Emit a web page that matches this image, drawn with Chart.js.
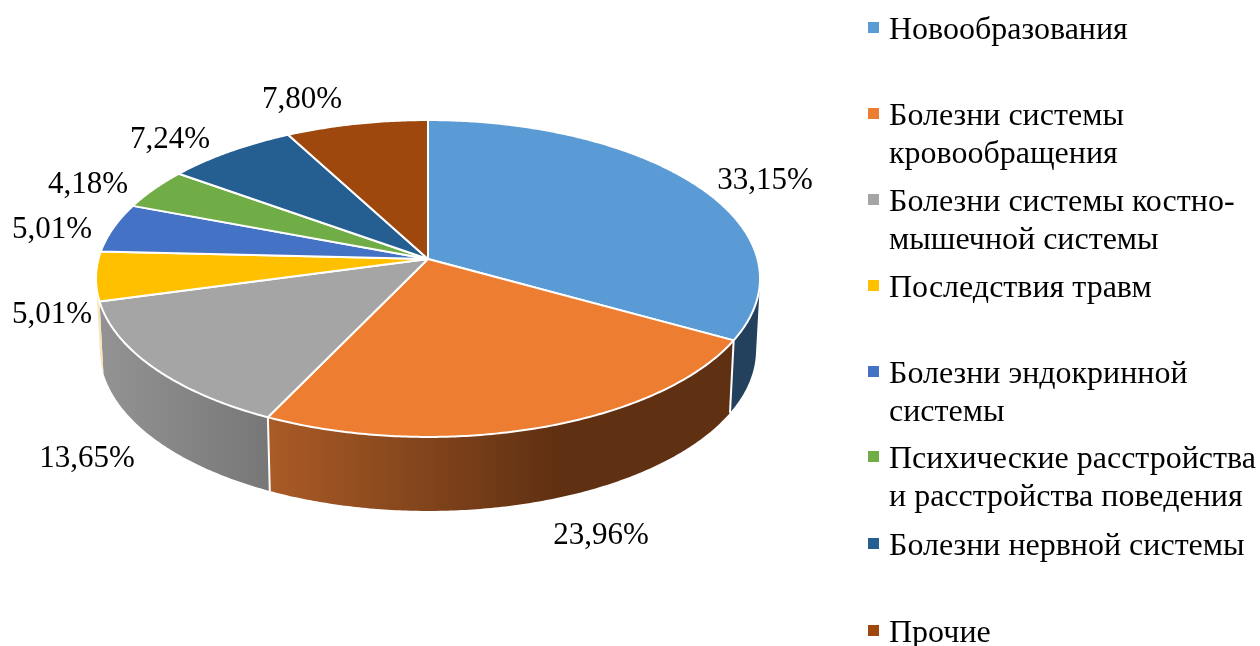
<!DOCTYPE html>
<html>
<head>
<meta charset="utf-8">
<script src="https://cdn.jsdelivr.net/npm/chart.js@4"></script>
<style>
html,body{margin:0;padding:0;background:#fff;}
canvas{display:block;}
</style>
</head>
<body>
<canvas id="chart" width="1260" height="646"></canvas>
<script>
// data
const categories = [
  ["Новообразования"],
  ["Болезни системы", "кровообращения"],
  ["Болезни системы костно-", "мышечной системы"],
  ["Последствия травм"],
  ["Болезни эндокринной", "системы"],
  ["Психические расстройства", "и расстройства поведения"],
  ["Болезни нервной системы"],
  ["Прочие"]
];
const shares = [33.15, 23.96, 13.65, 5.01, 5.01, 4.18, 7.24, 7.80];

// colours
const topColors = ["#5b9bd5", "#ed7d31", "#a5a5a5", "#ffc000", "#4472c4", "#70ad47", "#255e91", "#9e480e"];
const wallColors = ["#23415c", "#5f3012", "#808080", "#f7e6b8", "#2a4778", "#446a2b", "#163a5a", "#5f2b08"];

// layout
const LABEL_FONT = '31px "Liberation Serif", serif';
const LEGEND_FONT = '32px "Liberation Serif", serif';
const cx = 428, apexY = 259, radX = 329.5, radY = 124.2, persp = -0.123;
const labelCentres = [[765,181],[601,536],[87,459],[52,315],[52,230],[88,185],[170,140],[302,100]];
const legendX = 889, legendMarkX = 868, legendMarkSize = 11, legendLineH = 37.5;
const legendBaselines = [39,125,211,297,383,468,555,642];

// circle of the pie -> screen, perspective tilt
function project(a){
  const u = Math.cos(a), v = Math.sin(a), d = 1 + persp*v;
  return [cx + radX*u/d, (apexY + radY*v)/d, v];
}
function projectLow(a){
  const p = project(a);
  return [cx + (p[0]-cx)*0.988, p[1] + 71 + 3*p[2]];
}
function samples(a0, a1, fn){
  const n = Math.max(2, Math.ceil((a1-a0)/0.01)), pts = [];
  for(let i=0;i<=n;i++) pts.push(fn(a0 + (a1-a0)*i/n));
  return pts;
}
function wallFill(ctx, i){
  if(i === 1){
    const g = ctx.createLinearGradient(270,0,560,0);
    g.addColorStop(0,"#aa5b26");
    g.addColorStop(1,"#5f3012");
    return g;
  }
  if(i === 2){
    const g = ctx.createLinearGradient(100,0,270,0);
    g.addColorStop(0,"#939393");
    g.addColorStop(1,"#777777");
    return g;
  }
  return wallColors[i];
}

const pie3d = {
  id: "pie3d",
  beforeDatasetsDraw(chart){
    const ctx = chart.ctx;
    const arcs = chart.getDatasetMeta(0).data;
    ctx.save();
    ctx.lineJoin = "round";

    // side walls, only between the two silhouette points
    const edge = 0.15;
    arcs.forEach((arc,i)=>{
      let a0 = Math.max(arc.startAngle, edge), a1 = Math.min(arc.endAngle, Math.PI - edge);
      if(a1 <= a0) return;
      const up = samples(a0,a1,project), low = samples(a0,a1,projectLow);
      ctx.beginPath();
      up.forEach((p,k)=> k ? ctx.lineTo(p[0],p[1]) : ctx.moveTo(p[0],p[1]));
      low.reverse().forEach(p=> ctx.lineTo(p[0],p[1]));
      ctx.closePath();
      ctx.fillStyle = wallFill(ctx,i);
      ctx.fill();
    });
    // white seams between walls
    ctx.strokeStyle = "#fff";
    ctx.lineWidth = 2;
    [0,1].forEach(i=>{
      const a = arcs[i].endAngle, p = project(a), q = projectLow(a);
      ctx.beginPath();
      ctx.moveTo(p[0],p[1]);
      ctx.lineTo(q[0],q[1]);
      ctx.stroke();
    });

    // top faces
    arcs.forEach((arc,i)=>{
      const pts = samples(arc.startAngle, arc.endAngle, project);
      ctx.beginPath();
      ctx.moveTo(cx, apexY);
      pts.forEach(p=> ctx.lineTo(p[0],p[1]));
      ctx.closePath();
      ctx.fillStyle = topColors[i];
      ctx.fill();
      ctx.strokeStyle = "#fff";
      ctx.lineWidth = 2;
      ctx.stroke();
    });
    ctx.restore();
    return false; // the flat arcs are replaced by the tilted ones
  },
  afterDraw(chart){
    const ctx = chart.ctx;
    ctx.save();
    ctx.font = LABEL_FONT;
    ctx.fillStyle = "#000";
    ctx.textAlign = "center";
    ctx.textBaseline = "middle";
    shares.forEach((s,i)=>{
      ctx.fillText(s.toFixed(2).replace(".",",") + "%", labelCentres[i][0], labelCentres[i][1]);
    });
    ctx.font = LEGEND_FONT;
    ctx.textAlign = "left";
    ctx.textBaseline = "alphabetic";
    categories.forEach((lines,i)=>{
      const y = legendBaselines[i];
      ctx.fillStyle = topColors[i];
      ctx.fillRect(legendMarkX, y-17, legendMarkSize, legendMarkSize);
      ctx.fillStyle = "#000";
      lines.forEach((t,k)=> ctx.fillText(t, legendX, y + k*legendLineH));
    });
    ctx.restore();
  }
};

new Chart(document.getElementById("chart"), {
  type: "pie",
  data: {
    labels: categories.map(c=>c.join(" ")),
    datasets: [{ data: shares, backgroundColor: topColors, borderColor: "#fff", borderWidth: 2 }]
  },
  options: {
    responsive: false,
    animation: false,
    plugins: { legend: { display:false }, tooltip: { enabled:false } }
  },
  plugins: [pie3d]
});
</script>
</body>
</html>
